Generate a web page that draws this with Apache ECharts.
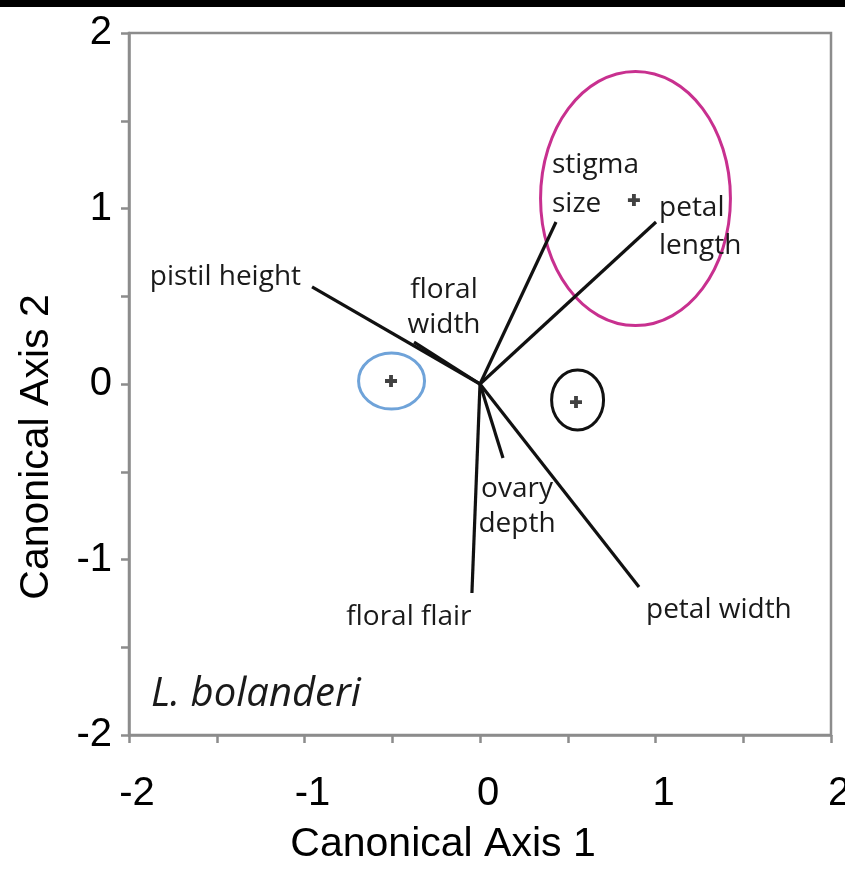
<!DOCTYPE html>
<html><head><meta charset="utf-8">
<script src="https://cdn.jsdelivr.net/npm/echarts@6/dist/echarts.min.js"></script>
<style>html,body{margin:0;padding:0;background:#fff}#c{width:845px;height:869px}</style>
</head><body><div id="c"></div>
<script>
// ---- data ----
const xTicks = [-2, -1, 0, 1, 2];
const yTicks = [-2, -1, 0, 1, 2];
const vectorOrigin = [0, 0];
const vectorNames = ['pistil height', 'floral width', 'stigma size', 'petal length', 'ovary depth', 'floral flair', 'petal width'];
const vectorLabels = ['pistil height', 'floral\nwidth', 'stigma\nsize', 'petal\nlength', 'ovary\ndepth', 'floral flair', 'petal width'];
const vectorX = [-0.957, -0.376, 0.433, 1.003, 0.131, -0.046, 0.906];
const vectorY = [0.553, 0.239, 0.923, 0.923, -0.422, -1.191, -1.157];
const groupNames = ['group A', 'group B', 'group C'];
const groupMeanX = [-0.507, 0.547, 0.877];
const groupMeanY = [0.017, -0.103, 1.048];
const ellipseCX = [-0.504, 0.556, 0.886];
const ellipseCY = [0.017, -0.091, 1.057];
const ellipseRX = [0.188, 0.148, 0.541];
const ellipseRY = [0.160, 0.171, 0.724];
const speciesName = 'L. bolanderi';
const speciesLabelAt = [-1.875, -1.772];

// ---- styles ----
const ellipseColors = ['#6fa3d9', '#111111', '#c8308f'];
const labelStyle = [
  {dx: -11, dy: -10, align: 'right', lh: 30},
  {dx: 30, dy: -35, align: 'center', lh: 35},
  {dx: -4, dy: -37, align: 'left', lh: 39},
  {dx: 3, dy: 5, align: 'left', lh: 38},
  {dx: 14, dy: 48, align: 'center', lh: 35},
  {dx: -63, dy: 24, align: 'center', lh: 30},
  {dx: 7, dy: 23, align: 'left', lh: 30}
];
const axisGray = '#8c8c8c';
const labelFont = '28px "Open Sans"';

const chart = echarts.init(document.getElementById('c'), null, {renderer: 'canvas'});

const axisCommon = {
  min: -2, max: 2, interval: 1,
  axisLine: {show: true, onZero: false, lineStyle: {color: axisGray, width: 2.5}},
  axisTick: {show: true, inside: false, length: 8, lineStyle: {color: axisGray, width: 2.5}},
  minorTick: {show: true, splitNumber: 2, length: 8, lineStyle: {color: axisGray, width: 2.5}},
  splitLine: {show: false},
  minorSplitLine: {show: false},
  nameLocation: 'middle'
};

const option = {
  animation: false,
  backgroundColor: '#fff',
  grid: {left: 129, right: 14, top: 33, bottom: 134, show: true, borderColor: axisGray, borderWidth: 2.5,
    backgroundColor: 'transparent', containLabel: false, outerBoundsMode: 'none'},
  xAxis: Object.assign({}, axisCommon, {
    type: 'value',
    name: 'Canonical Axis 1',
    nameGap: 89,
    nameTextStyle: {fontFamily: 'Liberation Sans', fontSize: 41, color: '#000', padding: [0, 74, 0, 0]},
    axisLabel: {fontFamily: 'Liberation Sans', fontSize: 40, color: '#000', margin: 39, padding: [0, 0, 0, 16],
      formatter: v => xTicks.includes(v) ? String(v) : ''}
  }),
  yAxis: Object.assign({}, axisCommon, {
    type: 'value',
    name: 'Canonical Axis 2',
    nameGap: 72,
    nameTextStyle: {fontFamily: 'Liberation Sans', fontSize: 41, color: '#000', padding: [0, 126, 0, 0]},
    axisLabel: {fontFamily: 'Liberation Sans', fontSize: 40, color: '#000', margin: 17,
      formatter: v => yTicks.includes(v) ? String(v) : ''}
  }),
  graphic: [{type: 'rect', left: 0, top: 0, shape: {width: 845, height: 7}, style: {fill: '#000'}}],
  series: [
    {
      type: 'custom', name: 'ellipses',
      data: ellipseCX.map((x, i) => [x, ellipseCY[i], ellipseRX[i], ellipseRY[i]]),
      renderItem: (params, api) => {
        const c = api.coord([api.value(0), api.value(1)]);
        const s = api.size([api.value(2), api.value(3)]);
        return {type: 'ellipse', shape: {cx: c[0], cy: c[1], rx: s[0], ry: s[1]},
          style: {fill: 'none', stroke: ellipseColors[params.dataIndex], lineWidth: 3}};
      }
    },
    {
      type: 'custom', name: 'vectors',
      data: vectorX.map((x, i) => [x, vectorY[i]]),
      renderItem: (params, api) => {
        const o = api.coord(vectorOrigin);
        const p = api.coord([api.value(0), api.value(1)]);
        const L = labelStyle[params.dataIndex];
        return {type: 'group', children: [
          {type: 'line', shape: {x1: o[0], y1: o[1], x2: p[0], y2: p[1]}, style: {stroke: '#111', lineWidth: 3.2}},
          {type: 'text', x: p[0] + L.dx, y: p[1] + L.dy,
            style: {text: vectorLabels[params.dataIndex], font: labelFont, fill: '#1a1a1a', align: L.align, verticalAlign: 'middle', lineHeight: L.lh}}
        ]};
      }
    },
    {
      type: 'scatter', name: 'group means',
      data: groupMeanX.map((x, i) => [x, groupMeanY[i]]),
      symbol: 'path://M3.4,0h3.2v3.4h3.4v3.2h-3.4v3.4h-3.2v-3.4h-3.4v-3.2h3.4z',
      symbolSize: 12,
      itemStyle: {color: '#111'}
    },
    {
      type: 'custom', name: 'species',
      data: [speciesLabelAt],
      renderItem: (params, api) => {
        const p = api.coord([api.value(0), api.value(1)]);
        return {type: 'text', x: p[0], y: p[1],
          style: {text: speciesName, font: 'italic 40px "Open Sans"', fill: '#1a1a1a', align: 'left', verticalAlign: 'middle'}};
      }
    }
  ]
};
chart.setOption(option);
</script>
</body></html>
